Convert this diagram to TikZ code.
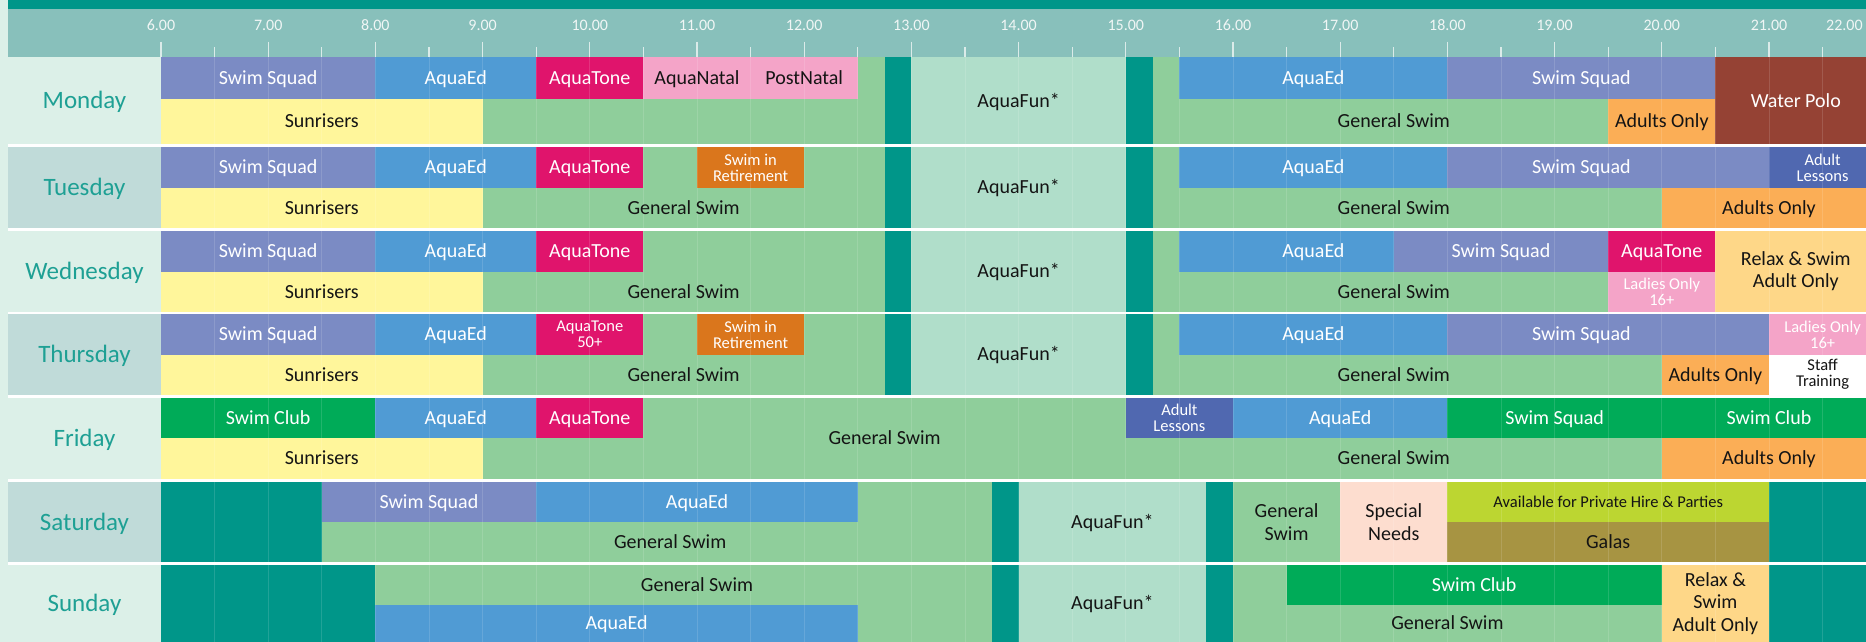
\documentclass[tikz,border=0pt]{standalone}
\usepackage{fontspec}
\setmainfont{Carlito}
\definecolor{sq}{HTML}{7B8BC4}
\definecolor{ed}{HTML}{509BD4}
\definecolor{tone}{HTML}{E0146C}
\definecolor{pinkb}{HTML}{F4A4C8}
\definecolor{sun}{HTML}{FFF69B}
\definecolor{gen}{HTML}{8FCE9B}
\definecolor{tl}{HTML}{009689}
\definecolor{fun}{HTML}{B0DECA}
\definecolor{polo}{HTML}{954234}
\definecolor{adult}{HTML}{FBAE56}
\definecolor{retire}{HTML}{DA761C}
\definecolor{lessons}{HTML}{5068B0}
\definecolor{relax}{HTML}{FED788}
\definecolor{club}{HTML}{00AB58}
\definecolor{special}{HTML}{FDDDCF}
\definecolor{hire}{HTML}{BCD631}
\definecolor{gala}{HTML}{A79442}
\definecolor{hdr}{HTML}{88C0BB}
\definecolor{mint}{HTML}{DCF0E8}
\definecolor{minttwo}{HTML}{C0DBD9}
\definecolor{daytxt}{HTML}{1EA094}
\definecolor{ink}{HTML}{141414}
\definecolor{hourtxt}{HTML}{F0F6F5}
\newcommand\blockfill[5]{\fill[#1] (#2,#3) rectangle (#4,#5);}
\tikzset{
  lab/.style={inner sep=0pt, align=center, font=\fontsize{20}{22.5}\selectfont, text height=12.9pt, text depth=0pt},
  sml/.style={inner sep=0pt, align=center, font=\fontsize{16.5}{16}\selectfont, text height=10.6pt, text depth=0pt},
  labm/.style={inner sep=0pt, align=center, font=\fontsize{20}{22.5}\selectfont},
  smlm/.style={inner sep=0pt, align=center, font=\fontsize{16.5}{16}\selectfont},
  wl/.style={lab, text=white},
  bl/.style={lab, text=ink},
  ws/.style={sml, text=white},
  bs/.style={sml, text=ink},
  blm/.style={labm, text=ink},
  wsm/.style={smlm, text=white},
  bsm/.style={smlm, text=ink},
  daylab/.style={inner sep=0pt, font=\fontsize{25}{28}\selectfont, text=daytxt, text height=16.1pt, text depth=0pt},
  hourlab/.style={inner sep=0pt, font=\fontsize{16}{18}\selectfont, text=hourtxt, text height=10.1pt, text depth=0pt},
  tickmark/.style={draw=hourtxt, line width=1.2pt, opacity=0.8},
  gridline/.style={draw=white, line width=0.8pt, opacity=0.13}
}
\begin{document}
\begin{tikzpicture}[x=1pt,y=-1pt]
\useasboundingbox (0,0) rectangle (1866,642);
\clip (0,0) rectangle (1866,642);
\fill[white] (0,0) rectangle (1866,642);
\fill[mint] (0,0) rectangle (8,642);
\fill[tl] (8,0) rectangle (1866,9);
\fill[hdr] (8,9) rectangle (1866,57.3);
% day label cells
\fill[mint] (8,57.3) rectangle (161,144);
\fill[minttwo] (8,146.7) rectangle (161,228.3);
\fill[mint] (8,231) rectangle (161,311.7);
\fill[minttwo] (8,314.3) rectangle (161,394.7);
\fill[mint] (8,397.7) rectangle (161,479);
\fill[minttwo] (8,482) rectangle (161,562);
\fill[mint] (8,564.7) rectangle (161,642);
\node[daylab] (dmon) at (84.5,100.6) {Monday};
\node[daylab] (dtue) at (84.5,187.5) {Tuesday};
\node[daylab] (dwed) at (84.5,271.3) {Wednesday};
\node[daylab] (dthu) at (84.5,354.5) {Thursday};
\node[daylab] (dfri) at (84.5,438.3) {Friday};
\node[daylab] (dsat) at (84.5,522) {Saturday};
\node[daylab] (dsun) at (84.5,603.3) {Sunday};
\begin{scope}[x=107.2pt, xshift=-482.2pt]
% ticks and hour labels
\foreach \h in {6,...,21} {
  \draw[tickmark] (\h,41.7) -- (\h,57.3);
  \draw[tickmark] (\h+0.5,47.3) -- (\h+0.5,57.3);
}
\foreach \h [count=\i] in {6,...,21} {
  \node[hourlab] (hr\i) at (\h,25.3) {\h.00};
}
\node[hourlab, anchor=east] (hr17) at (21.875,25.3) {22.00};
% ---------- Monday 57.3 / 99 / 144
\blockfill{sq}{6}{57.3}{8}{99}
\blockfill{ed}{8}{57.3}{9.5}{99}
\blockfill{tone}{9.5}{57.3}{10.5}{99}
\blockfill{pinkb}{10.5}{57.3}{12.5}{99}
\blockfill{sun}{6}{99}{9}{144}
\blockfill{gen}{9}{99}{12.75}{144}
\blockfill{gen}{12.5}{57.3}{12.75}{99}
\blockfill{tl}{12.75}{57.3}{13}{144}
\blockfill{fun}{13}{57.3}{15}{144}
\blockfill{tl}{15}{57.3}{15.25}{144}
\blockfill{gen}{15.25}{57.3}{15.5}{99}
\blockfill{gen}{15.25}{99}{19.5}{144}
\blockfill{ed}{15.5}{57.3}{18}{99}
\blockfill{sq}{18}{57.3}{20.5}{99}
\blockfill{adult}{19.5}{99}{20.5}{144}
\blockfill{polo}{20.5}{57.3}{22}{144}
% ---------- Tuesday 146.7 / 188.3 / 228.3
\blockfill{sq}{6}{146.7}{8}{188.3}
\blockfill{ed}{8}{146.7}{9.5}{188.3}
\blockfill{tone}{9.5}{146.7}{10.5}{188.3}
\blockfill{gen}{10.5}{146.7}{12.75}{188.3}
\blockfill{retire}{11}{146.7}{12}{188.3}
\blockfill{sun}{6}{188.3}{9}{228.3}
\blockfill{gen}{9}{188.3}{12.75}{228.3}
\blockfill{tl}{12.75}{146.7}{13}{228.3}
\blockfill{fun}{13}{146.7}{15}{228.3}
\blockfill{tl}{15}{146.7}{15.25}{228.3}
\blockfill{gen}{15.25}{146.7}{15.5}{188.3}
\blockfill{gen}{15.25}{188.3}{20}{228.3}
\blockfill{ed}{15.5}{146.7}{18}{188.3}
\blockfill{sq}{18}{146.7}{21}{188.3}
\blockfill{lessons}{21}{146.7}{22}{188.3}
\blockfill{adult}{20}{188.3}{22}{228.3}
% ---------- Wednesday 231 / 271.7 / 311.7
\blockfill{sq}{6}{231}{8}{271.7}
\blockfill{ed}{8}{231}{9.5}{271.7}
\blockfill{tone}{9.5}{231}{10.5}{271.7}
\blockfill{gen}{10.5}{231}{12.75}{271.7}
\blockfill{sun}{6}{271.7}{9}{311.7}
\blockfill{gen}{9}{271.7}{12.75}{311.7}
\blockfill{tl}{12.75}{231}{13}{311.7}
\blockfill{fun}{13}{231}{15}{311.7}
\blockfill{tl}{15}{231}{15.25}{311.7}
\blockfill{gen}{15.25}{231}{15.5}{271.7}
\blockfill{gen}{15.25}{271.7}{19.5}{311.7}
\blockfill{ed}{15.5}{231}{17.5}{271.7}
\blockfill{sq}{17.5}{231}{19.5}{271.7}
\blockfill{tone}{19.5}{231}{20.5}{271.7}
\blockfill{pinkb}{19.5}{271.7}{20.5}{311.7}
\blockfill{relax}{20.5}{231}{22}{311.7}
% ---------- Thursday 314.3 / 354.7 / 394.7
\blockfill{sq}{6}{314.3}{8}{354.7}
\blockfill{ed}{8}{314.3}{9.5}{354.7}
\blockfill{tone}{9.5}{314.3}{10.5}{354.7}
\blockfill{gen}{10.5}{314.3}{12.75}{354.7}
\blockfill{retire}{11}{314.3}{12}{354.7}
\blockfill{sun}{6}{354.7}{9}{394.7}
\blockfill{gen}{9}{354.7}{12.75}{394.7}
\blockfill{tl}{12.75}{314.3}{13}{394.7}
\blockfill{fun}{13}{314.3}{15}{394.7}
\blockfill{tl}{15}{314.3}{15.25}{394.7}
\blockfill{gen}{15.25}{314.3}{15.5}{354.7}
\blockfill{gen}{15.25}{354.7}{20}{394.7}
\blockfill{ed}{15.5}{314.3}{18}{354.7}
\blockfill{sq}{18}{314.3}{21}{354.7}
\blockfill{pinkb}{21}{314.3}{22}{354.7}
\blockfill{adult}{20}{354.7}{21}{394.7}
\blockfill{white}{21}{354.7}{22}{394.7}
% ---------- Friday 397.7 / 437.7 / 479
\blockfill{club}{6}{397.7}{8}{437.7}
\blockfill{ed}{8}{397.7}{9.5}{437.7}
\blockfill{tone}{9.5}{397.7}{10.5}{437.7}
\blockfill{gen}{10.5}{397.7}{15}{437.7}
\blockfill{sun}{6}{437.7}{9}{479}
\blockfill{gen}{9}{437.7}{20}{479}
\blockfill{lessons}{15}{397.7}{16}{437.7}
\blockfill{ed}{16}{397.7}{18}{437.7}
\blockfill{club}{18}{397.7}{22}{437.7}
\blockfill{adult}{20}{437.7}{22}{479}
% ---------- Saturday 482 / 522 / 562
\blockfill{tl}{6}{482}{7.5}{562}
\blockfill{sq}{7.5}{482}{9.5}{522}
\blockfill{ed}{9.5}{482}{12.5}{522}
\blockfill{gen}{12.5}{482}{13.75}{522}
\blockfill{gen}{7.5}{522}{13.75}{562}
\blockfill{tl}{13.75}{482}{14}{562}
\blockfill{fun}{14}{482}{15.75}{562}
\blockfill{tl}{15.75}{482}{16}{562}
\blockfill{gen}{16}{482}{17}{562}
\blockfill{special}{17}{482}{18}{562}
\blockfill{hire}{18}{482}{21}{522}
\blockfill{gala}{18}{522}{21}{562}
\blockfill{tl}{21}{482}{22}{562}
% ---------- Sunday 564.7 / 605 / 642
\blockfill{tl}{6}{564.7}{8}{642}
\blockfill{gen}{8}{564.7}{13.75}{605}
\blockfill{ed}{8}{605}{12.5}{642}
\blockfill{gen}{12.5}{605}{13.75}{642}
\blockfill{tl}{13.75}{564.7}{14}{642}
\blockfill{fun}{14}{564.7}{15.75}{642}
\blockfill{tl}{15.75}{564.7}{16}{642}
\blockfill{gen}{16}{564.7}{20}{642}
\blockfill{club}{16.5}{564.7}{20}{605}
\blockfill{relax}{20}{564.7}{21}{642}
\blockfill{tl}{21}{564.7}{22}{642}
% faint grid
\foreach \h in {6.5,7,...,21.5} {
  \draw[gridline] (\h,57.3) -- (\h,642);
}
% ---------- labels Monday
\node[wl] (m1) at (7,78.15) {Swim Squad};
\node[wl] (m2) at (8.75,78.15) {AquaEd};
\node[wl] (m3) at (10,78.15) {AquaTone};
\node[bl] (m4) at (11,78.15) {AquaNatal};
\node[bl] (m5) at (12,78.15) {PostNatal};
\node[bl] (m6) at (7.5,121.5) {Sunrisers};
\node[bl] (m7) at (14,100.6) {AquaFun*};
\node[wl] (m8) at (16.75,78.15) {AquaEd};
\node[wl] (m9) at (19.25,78.15) {Swim Squad};
\node[bl] (m10) at (17.5,121.5) {General Swim};
\node[bl] (m11) at (20,121.5) {Adults Only};
\node[wl] (m12) at (21.25,100.6) {Water Polo};
% Tuesday
\node[wl] (t1) at (7,167.5) {Swim Squad};
\node[wl] (t2) at (8.75,167.5) {AquaEd};
\node[wl] (t3) at (10,167.5) {AquaTone};
\node[wsm] (t4) at (11.5,167.5) {Swim in\\Retirement};
\node[bl] (t5) at (7.5,208.3) {Sunrisers};
\node[bl] (t6) at (10.875,208.3) {General Swim};
\node[bl] (t7) at (14,187.5) {AquaFun*};
\node[wl] (t8) at (16.75,167.5) {AquaEd};
\node[wl] (t9) at (19.25,167.5) {Swim Squad};
\node[wsm] (t10) at (21.5,167.5) {Adult\\Lessons};
\node[bl] (t11) at (17.5,208.3) {General Swim};
\node[bl] (t12) at (21,208.3) {Adults Only};
% Wednesday
\node[wl] (w1) at (7,251.35) {Swim Squad};
\node[wl] (w2) at (8.75,251.35) {AquaEd};
\node[wl] (w3) at (10,251.35) {AquaTone};
\node[bl] (w4) at (7.5,291.7) {Sunrisers};
\node[bl] (w5) at (10.875,291.7) {General Swim};
\node[bl] (w6) at (14,271.35) {AquaFun*};
\node[wl] (w7) at (16.75,251.35) {AquaEd};
\node[wl] (w8) at (18.5,251.35) {Swim Squad};
\node[wl] (w9) at (20,251.35) {AquaTone};
\node[wsm] (w10) at (20,291.7) {Ladies Only\\16+};
\node[bl] (w11) at (17.5,291.7) {General Swim};
\node[blm] (w12) at (21.25,271.35) {Relax \& Swim\\Adult Only};
% Thursday
\node[wl] (h1) at (7,334.5) {Swim Squad};
\node[wl] (h2) at (8.75,334.5) {AquaEd};
\node[wsm] (h3) at (10,334.5) {AquaTone\\50+};
\node[wsm] (h4) at (11.5,334.5) {Swim in\\Retirement};
\node[bl] (h5) at (7.5,374.7) {Sunrisers};
\node[bl] (h6) at (10.875,374.7) {General Swim};
\node[bl] (h7) at (14,354.5) {AquaFun*};
\node[wl] (h8) at (16.75,334.5) {AquaEd};
\node[wl] (h9) at (19.25,334.5) {Swim Squad};
\node[wsm] (h10) at (21.5,334.5) {Ladies Only\\16+};
\node[bl] (h11) at (17.5,374.7) {General Swim};
\node[bl] (h12) at (20.5,374.7) {Adults Only};
\node[bsm] (h13) at (21.5,374.7) {Staff\\Training};
% Friday
\node[wl] (f1) at (7,417.7) {Swim Club};
\node[wl] (f2) at (8.75,417.7) {AquaEd};
\node[wl] (f3) at (10,417.7) {AquaTone};
\node[bl] (f4) at (7.5,458.35) {Sunrisers};
\node[bl] (f5) at (12.75,438.35) {General Swim};
\node[wsm] (f6) at (15.5,417.7) {Adult\\Lessons};
\node[wl] (f7) at (17,417.7) {AquaEd};
\node[wl] (f8) at (19,417.7) {Swim Squad};
\node[wl] (f9) at (21,417.7) {Swim Club};
\node[bl] (f10) at (17.5,458.35) {General Swim};
\node[bl] (f11) at (21,458.35) {Adults Only};
% Saturday
\node[wl] (s1) at (8.5,502) {Swim Squad};
\node[wl] (s2) at (11,502) {AquaEd};
\node[bl] (s3) at (10.75,542) {General Swim};
\node[bl] (s4) at (14.875,522) {AquaFun*};
\node[blm] (s5) at (16.5,522) {General\\Swim};
\node[blm] (s6) at (17.5,522) {Special\\Needs};
\node[bs] (s7) at (19.5,502) {Available for Private Hire \& Parties};
\node[bl] (s8) at (19.5,542) {Galas};
% Sunday
\node[bl] (u1) at (11,584.85) {General Swim};
\node[wl] (u2) at (10.25,623.5) {AquaEd};
\node[bl] (u3) at (14.875,603.35) {AquaFun*};
\node[wl] (u4) at (18.25,584.85) {Swim Club};
\node[bl] (u5) at (18,623.5) {General Swim};
\node[blm] (u6) at (20.5,603.35) {Relax \&\\Swim\\Adult Only};
\end{scope}
\end{tikzpicture}
\end{document}
